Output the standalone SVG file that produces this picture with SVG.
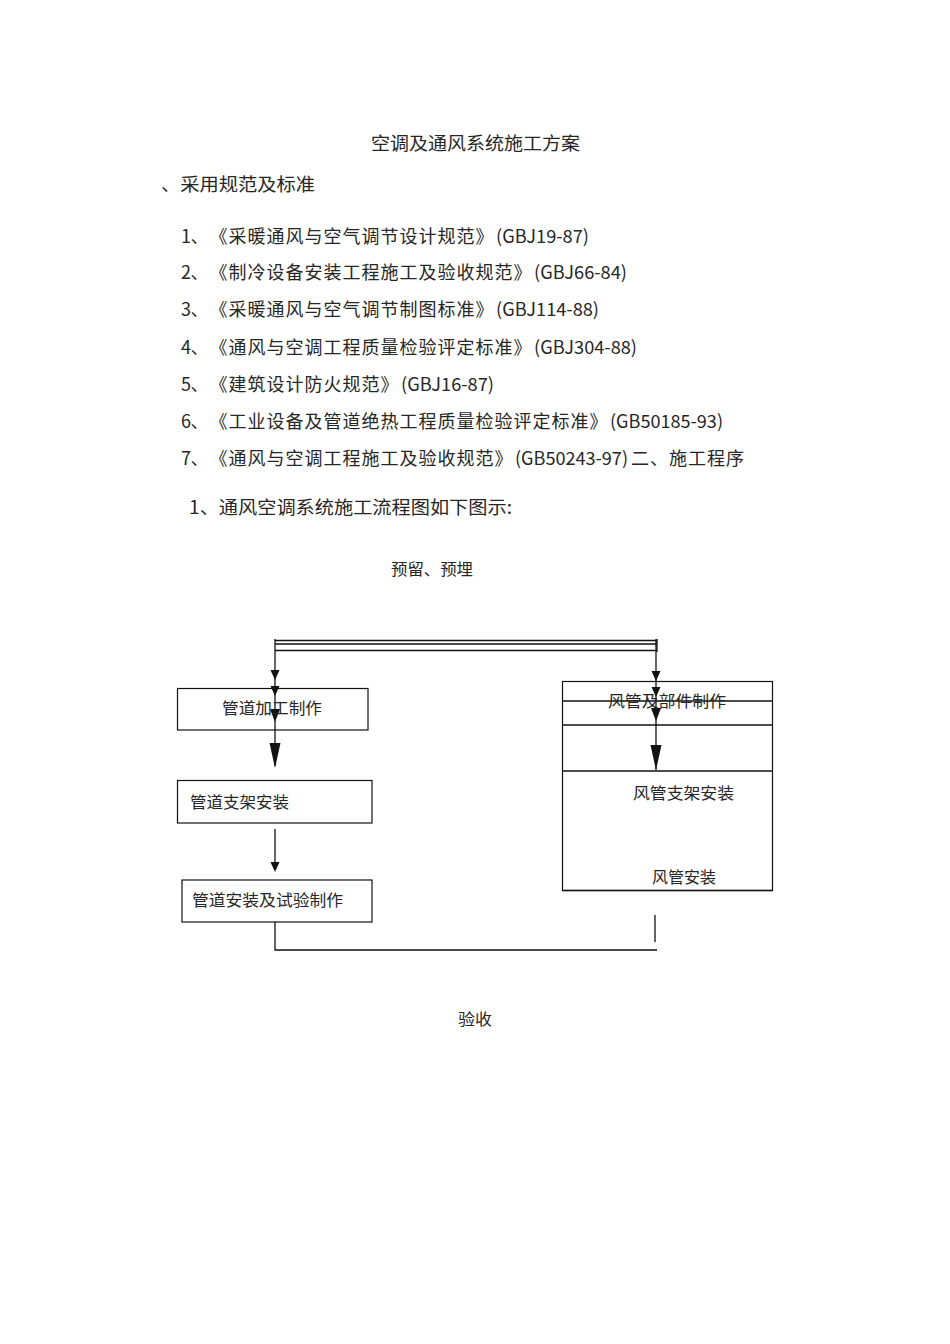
<svg xmlns="http://www.w3.org/2000/svg" xmlns:xlink="http://www.w3.org/1999/xlink" width="950" height="1344" viewBox="0 0 950 1344">
<style>
text{font-family:"Noto Sans CJK SC","Liberation Serif",sans-serif;fill:#262626;}
.h{font-size:18px;}
.b{font-size:16px;}
.cj{letter-spacing:1px;}
.box{fill:none;stroke:#111;stroke-width:1.2;}
.ln{fill:none;stroke:#111;stroke-width:1.3;}
.ah{fill:#111;stroke:none;}
</style>
<defs>
<path id="aS" d="M0,0 L-4.5,-10 L4.5,-10 Z"/>
<path id="aM" d="M0,0 L-5,-13 L5,-13 Z"/>
<path id="aL" d="M0,0 L-5.5,-25 L5.5,-25 Z"/>
</defs>
<rect width="950" height="1344" fill="#fff"/>
<g id="doc-text" class="h">
<text x="371" y="150" textLength="209" lengthAdjust="spacingAndGlyphs">空调及通风系统施工方案</text>
<text x="161" y="191" textLength="154" lengthAdjust="spacingAndGlyphs">、采用规范及标准</text>
<text x="181" y="243">1<tspan x="190.5">、</tspan><tspan class="cj" x="209.5">《采暖通风与空气调节设计规范》</tspan><tspan x="496" textLength="93" lengthAdjust="spacingAndGlyphs">(GBJ19-87)</tspan></text>
<text x="181" y="279">2<tspan x="190.5">、</tspan><tspan class="cj" x="209.5">《制冷设备安装工程施工及验收规范》</tspan><tspan x="534" textLength="93" lengthAdjust="spacingAndGlyphs">(GBJ66-84)</tspan></text>
<text x="181" y="316">3<tspan x="190.5">、</tspan><tspan class="cj" x="209.5">《采暖通风与空气调节制图标准》</tspan><tspan x="496" textLength="103" lengthAdjust="spacingAndGlyphs">(GBJ114-88)</tspan></text>
<text x="181" y="354">4<tspan x="190.5">、</tspan><tspan class="cj" x="209.5">《通风与空调工程质量检验评定标准》</tspan><tspan x="534" textLength="103" lengthAdjust="spacingAndGlyphs">(GBJ304-88)</tspan></text>
<text x="181" y="391">5<tspan x="190.5">、</tspan><tspan class="cj" x="209.5">《建筑设计防火规范》</tspan><tspan x="401" textLength="93" lengthAdjust="spacingAndGlyphs">(GBJ16-87)</tspan></text>
<text x="181" y="428">6<tspan x="190.5">、</tspan><tspan class="cj" x="209.5">《工业设备及管道绝热工程质量检验评定标准》</tspan><tspan x="610" textLength="113" lengthAdjust="spacingAndGlyphs">(GB50185-93)</tspan></text>
<text x="181" y="465">7<tspan x="190.5">、</tspan><tspan class="cj" x="209.5">《通风与空调工程施工及验收规范》</tspan><tspan x="515" textLength="113" lengthAdjust="spacingAndGlyphs">(GB50243-97)</tspan><tspan class="cj" x="631">二、施工程序</tspan></text>
<text x="189" y="514" textLength="323" lengthAdjust="spacingAndGlyphs">1、通风空调系统施工流程图如下图示:</text>
</g>
<g id="node-start">
<text class="b" x="391" y="575" textLength="82" lengthAdjust="spacingAndGlyphs">预留、预埋</text>
</g>
<g id="connectors">
<line class="ln" x1="275" y1="640.5" x2="657" y2="640.5" stroke-width="1"/>
<line class="ln" x1="275" y1="644" x2="657" y2="644" stroke-width="1.2"/>
<line class="ln" x1="275" y1="650.5" x2="657" y2="650.5" stroke-width="2.2"/>
<line class="ln" x1="657" y1="639" x2="657" y2="652" stroke-width="1.5"/>
<line class="ln" x1="275" y1="639" x2="275" y2="690" stroke-width="2.2"/>
<line class="ln" x1="275" y1="690" x2="275" y2="766" stroke-width="1.4"/>
<use class="ah" href="#aS" x="275" y="680"/>
<use class="ah" href="#aS" x="275" y="696"/>
<use class="ah" href="#aM" x="275" y="722"/>
<use class="ah" href="#aL" x="275" y="768"/>
<line class="ln" x1="656" y1="639" x2="656" y2="690" stroke-width="2.2"/>
<line class="ln" x1="656" y1="690" x2="656" y2="770" stroke-width="1.4"/>
<use class="ah" href="#aS" x="656" y="681"/>
<use class="ah" href="#aS" x="656" y="697"/>
<use class="ah" href="#aM" x="656" y="721"/>
<use class="ah" href="#aL" x="656" y="770"/>
<line class="ln" x1="275" y1="829" x2="275" y2="866" stroke-width="1.6"/>
<use class="ah" href="#aS" x="275" y="872"/>
<polyline class="ln" points="275,922 275,950 657,950" stroke-width="1.4"/>
<line class="ln" x1="655" y1="915" x2="655" y2="942" stroke-width="1.2"/>
</g>
<g id="node-pipe-fab">
<rect class="box" x="177.5" y="688.5" width="190.5" height="41.5"/>
<text class="b" x="222" y="714" textLength="100" lengthAdjust="spacingAndGlyphs">管道加工制作</text>
</g>
<g id="node-pipe-support">
<rect class="box" x="177.5" y="780.5" width="194.5" height="42.5"/>
<text class="b" x="190" y="808" textLength="99" lengthAdjust="spacingAndGlyphs">管道支架安装</text>
</g>
<g id="node-pipe-install">
<rect class="box" x="182" y="880" width="190" height="42"/>
<text class="b" x="192" y="906" textLength="151" lengthAdjust="spacingAndGlyphs">管道安装及试验制作</text>
</g>
<g id="node-duct">
<rect class="box" x="562.5" y="681.5" width="210" height="209"/>
<line class="ln" x1="562.5" y1="701" x2="772.5" y2="701" stroke-width="1.1"/>
<line class="ln" x1="562.5" y1="725" x2="772.5" y2="725" stroke-width="1.6"/>
<line class="ln" x1="562.5" y1="771" x2="772.5" y2="771" stroke-width="2.4"/>
<line class="ln" x1="562.5" y1="890.5" x2="772.5" y2="890.5" stroke-width="2.6"/>
<text class="b" x="608" y="707" textLength="118" lengthAdjust="spacingAndGlyphs">风管及部件制作</text>
<text class="b" x="633" y="799" textLength="101" lengthAdjust="spacingAndGlyphs">风管支架安装</text>
<text class="b" x="652" y="883" textLength="64" lengthAdjust="spacingAndGlyphs">风管安装</text>
</g>
<g id="node-accept">
<text class="b" x="458" y="1025" textLength="34" lengthAdjust="spacingAndGlyphs">验收</text>
</g>
</svg>
